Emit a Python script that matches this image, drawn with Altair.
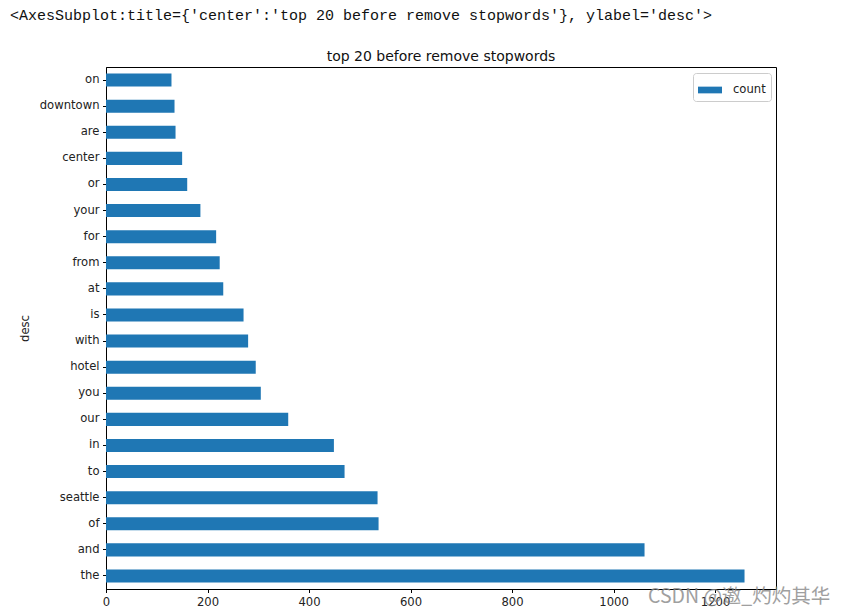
import altair as alt
import pandas as pd

words = ["on", "downtown", "are", "center", "or", "your", "for", "from", "at", "is",
         "with", "hotel", "you", "our", "in", "to", "seattle", "of", "and", "the"]
counts = [129, 135, 137, 150, 160, 186, 217, 224, 231, 271,
          280, 295, 305, 359, 449, 470, 535, 537, 1061, 1258]
series = ["count"] * len(words)
x_ticks = [0, 200, 400, 600, 800, 1000, 1200]

header = "<AxesSubplot:title={'center':'top 20 before remove stopwords'}, ylabel='desc'>"
title = "top 20 before remove stopwords"
watermark = "CSDN @邀_灼灼其华"

df = pd.DataFrame({"desc": words, "count": counts, "series": series})

W, H = 670, 522

bars = alt.Chart(df).mark_bar(color="#1f77b4").encode(
    x=alt.X("count:Q", scale=alt.Scale(domain=[0, 1320], nice=False),
            axis=alt.Axis(values=x_ticks, grid=False, title=None, format="d",
                          labelFlush=False)),
    y=alt.Y("desc:N", sort=words,
            scale=alt.Scale(paddingInner=0.5, paddingOuter=0.25),
            axis=alt.Axis(title="desc", titlePadding=9, grid=False)),
    color=alt.Color("series:N", scale=alt.Scale(domain=["count"], range=["#1f77b4"]),
                    legend=alt.Legend(title=None, orient="none", legendX=587, legendY=6,
                                      symbolType="M-1,-0.28L1,-0.28L1,0.28L-1,0.28Z",
                                      symbolSize=576, symbolStrokeWidth=0,
                                      fillColor="white", strokeColor="#cccccc",
                                      cornerRadius=3, padding=5, labelOffset=11,
                                      labelFontSize=11.6, labelFont="DejaVu Sans",
                                      labelColor="#222")),
)

head_t = alt.Chart(pd.DataFrame({"t": [header]})).mark_text(
    align="left", baseline="middle", font="Liberation Mono", fontSize=15, color="#111"
).encode(text="t:N", x=alt.value(-96), y=alt.value(-52))

title_t = alt.Chart(pd.DataFrame({"t": [title]})).mark_text(
    align="center", baseline="middle", font="DejaVu Sans", fontSize=14, color="#111"
).encode(text="t:N", x=alt.value(W / 2), y=alt.value(-10))

wm_t = alt.Chart(pd.DataFrame({"t": [watermark]})).mark_text(
    align="left", baseline="middle", font="Noto Sans CJK SC", fontSize=19.5,
    color="#888888", opacity=0.8
).encode(text="t:N", x=alt.value(542), y=alt.value(530))

chart = alt.layer(bars, head_t, title_t, wm_t).properties(
    width=W, height=H,
    autosize=alt.AutoSizeParams(type="none"),
    padding={"left": 98, "top": 59, "right": 60, "bottom": 22},
).configure_view(stroke="black", strokeWidth=1).configure_axis(
    domainColor="black", tickColor="black", labelColor="#222",
    labelFont="DejaVu Sans", labelFontSize=11.6, tickSize=3.5, labelPadding=3.5,
    titleFont="DejaVu Sans", titleFontSize=11.6, titleFontWeight="normal", titleColor="#222",
)

chart.save("out.html", embed_options={"renderer": "svg", "actions": False})
